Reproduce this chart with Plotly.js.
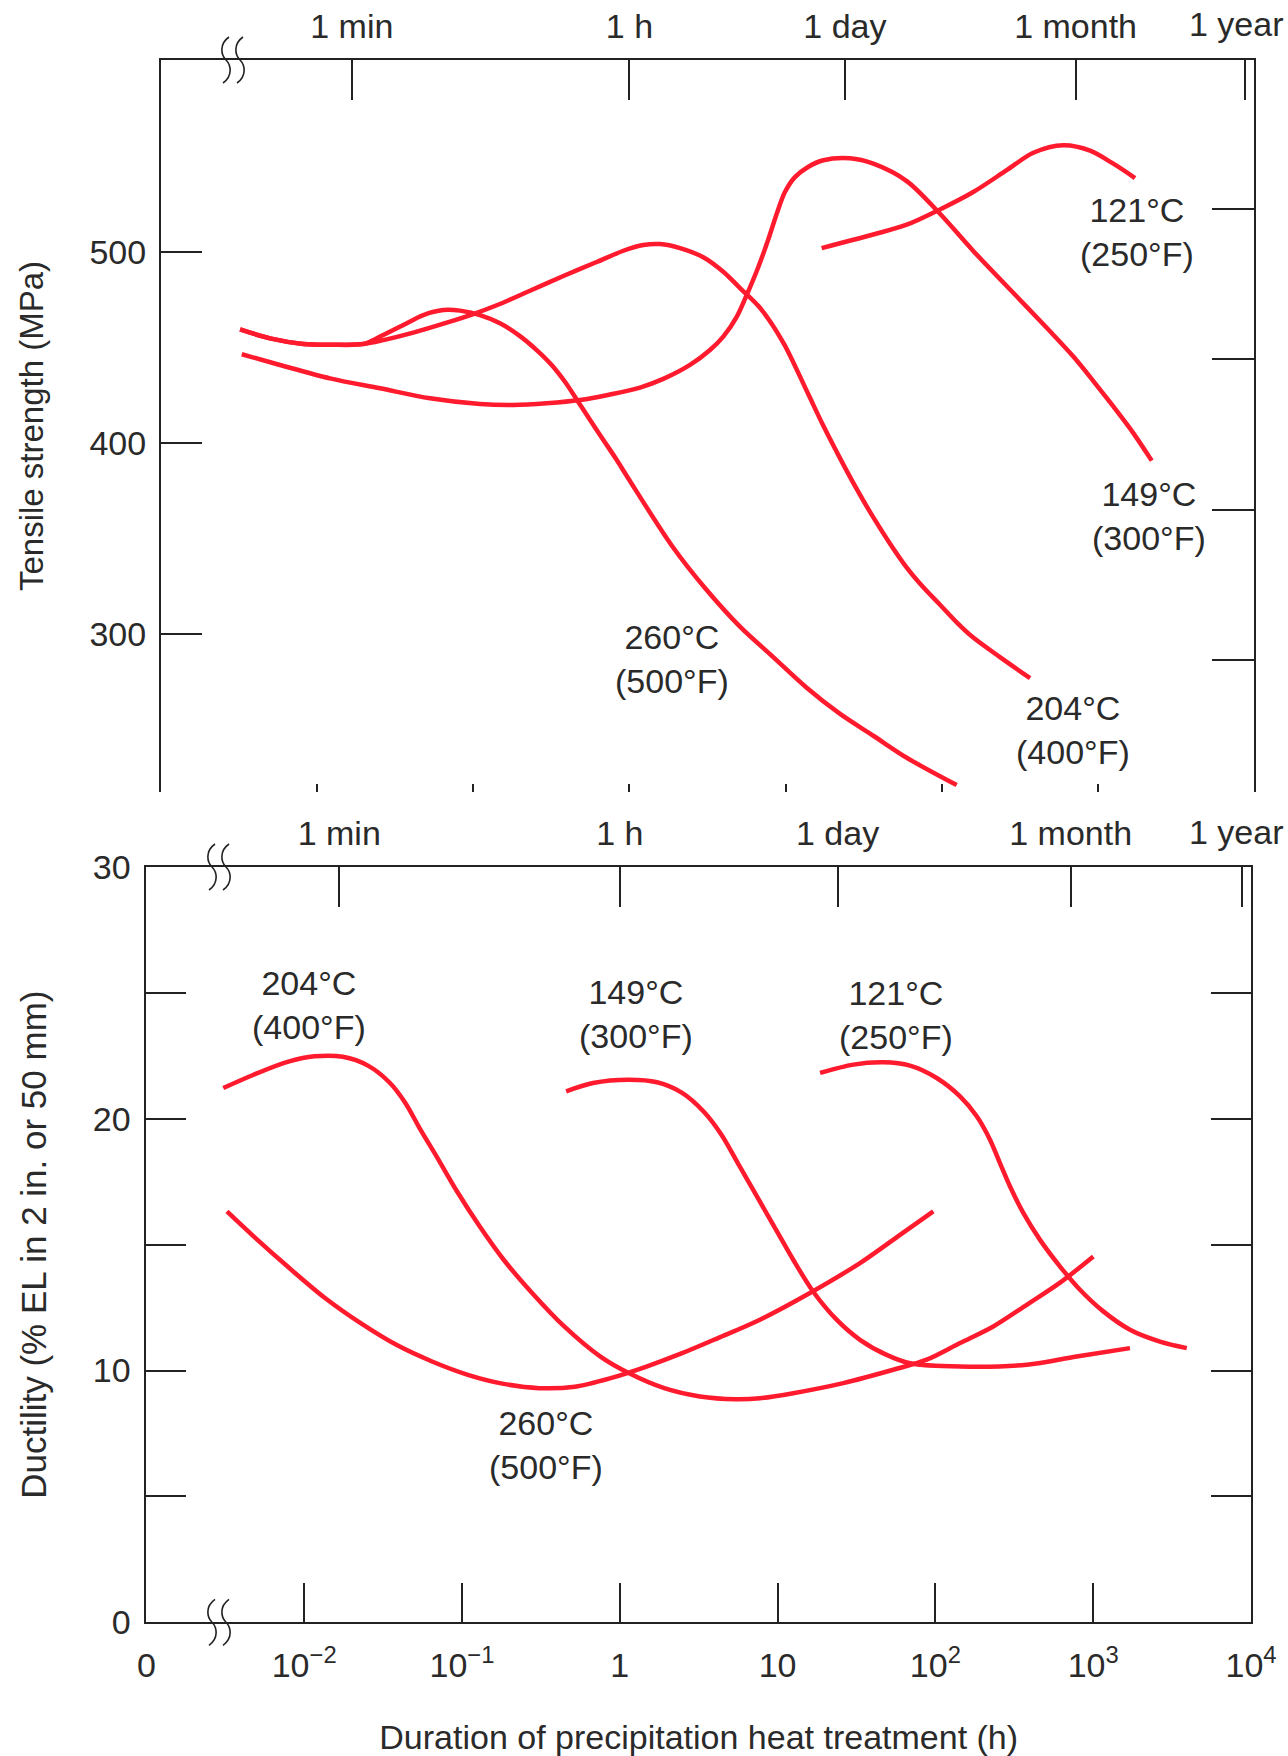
<!DOCTYPE html>
<html>
<head>
<meta charset="utf-8">
<script src="https://cdn.plot.ly/plotly-3.0.1.min.js"></script>
<style>
html,body{margin:0;padding:0;background:#fff;}
#chart{width:1288px;height:1756px;}
</style>
</head>
<body>
<div id="chart"></div>
<script>
// ---------------- DATA ----------------
// Top panel: tensile strength (MPa) vs. duration of heat treatment (h)
const ts260_h   = [0.00321,0.00499,0.00815,0.01208,0.01977,0.02529,0.03565,0.04786,0.06427,0.08222,0.1104,0.1483,0.1991,0.2547,0.3177,0.3864,0.4592,0.5598,0.6808,0.8299,0.9840,1.875,3.048,5.105,8.337,13.65,22.34,36.48,59.70,124.7];
const ts260_mpa = [459.4,454.7,451.8,451.4,451.8,455.6,461.7,466.9,469.5,469.2,466.9,462.6,455.9,448.6,440.8,432.0,422.8,412.0,401.6,391.1,381.5,346.2,324.2,304.0,288.1,272.1,258.4,247.0,235.5,221.2];

const ts204_h   = [0.00321,0.00499,0.00815,0.01208,0.01977,0.02655,0.0413,0.0676,0.1,0.1413,0.2307,0.3776,0.6166,0.9141,1.227,1.570,2.109,2.972,3.990,5.105,6.855,9.683,13.65,17.46,22.34,28.58,36.48,46.67,59.70,76.21,97.50,124.7,159.2,236.0,368.1];
const ts204_mpa = [459.4,454.7,451.8,451.4,451.8,453.8,457.7,462.9,467.4,472.0,479.6,487.3,494.6,500.5,503.5,504.0,501.9,497.1,489.5,481.0,470.7,452.4,427.3,409.0,392.0,375.9,361.1,347.4,334.9,324.6,315.5,306.3,298.3,288.1,277.1];

const ts149_h   = [0.00329,0.00578,0.01208,0.02529,0.05284,0.1104,0.1803,0.2951,0.4819,0.7516,1.169,1.648,2.443,3.281,3.990,4.864,5.741,6.653,7.727,8.810,9.908,11.48,13.93,17.46,25.88,36.48,59.70,97.50,159.2,333.4,481.9,696.6,935.4,1256,1687,2213];
const ts149_mpa = [446.4,440.8,433.8,428.6,423.4,420.4,419.9,420.8,422.5,425.4,429.0,433.5,440.8,448.6,455.6,465.9,478.9,491.5,506.1,520.2,531.2,539.0,544.3,547.8,548.8,546.0,536.9,519.8,500.4,473.0,459.3,445.2,432.4,419.1,405.2,390.8];

const ts121_h   = [17.02,36.48,59.70,97.5,159.2,260.6,386.4,601.2,891.3,1256,1730];
const ts121_mpa = [501.9,509.0,514.1,522.1,531.2,542.6,551.7,555.6,552.8,546.0,538.5];

// Bottom panel: ductility (%EL) vs. duration of heat treatment (h)
const el204_h   = [0.00307,0.00478,0.00805,0.01159,0.01758,0.02535,0.0346,0.04375,0.05383,0.06998,0.09311,0.1274,0.1837,0.2780,0.4446,0.7499,1.138,1.914,3.221,5.420,7.727,12.56,26.06,54.08,88.1,143.2,232.8,379.3,616.6,1002];
const el204_pct = [21.22,21.75,22.28,22.48,22.46,22.11,21.45,20.63,19.63,18.44,17.11,15.79,14.40,13.08,11.75,10.56,9.90,9.30,8.97,8.86,8.90,9.10,9.50,10.03,10.43,11.09,11.75,12.61,13.49,14.53];

const el260_h   = [0.00324,0.00478,0.00805,0.01355,0.02280,0.03837,0.06462,0.1089,0.1837,0.3090,0.5200,0.8750,1.476,2.483,4.188,7.727,16.03,33.27,59.70,97.0];
const el260_pct = [16.32,15.33,14.07,12.88,11.88,11.02,10.36,9.83,9.47,9.30,9.36,9.70,10.16,10.69,11.29,12.02,13.08,14.27,15.39,16.32];

const el149_h   = [0.457,0.676,1.138,1.722,2.483,3.396,4.406,5.715,7.727,9.863,12.56,16.83,23.66,33.27,49.09,69.02,143.2,379.3,785.2,1710];
const el149_pct = [21.09,21.42,21.55,21.45,21.03,20.29,19.37,18.14,16.71,15.55,14.40,13.13,12.02,11.22,10.62,10.29,10.16,10.23,10.56,10.89];

const el121_h   = [18.58,30.2,46.77,69.02,101.9,143.2,182.8,221.8,256.4,297.2,360.6,460.3,616.6,824.1,1159,1710,2649,3917];
const el121_pct = [21.82,22.15,22.24,22.11,21.62,20.89,20.10,19.17,18.24,17.31,16.26,15.19,14.13,13.21,12.35,11.62,11.15,10.89];

// Tick values / labels
const timeTickHours = [1/60, 1, 24, 720, 8760];
const timeTickText  = ['1 min', '1 h', '1 day', '1 month', '1 year'];
const decadeTicks   = [0.01, 0.1, 1, 10, 100, 1000];
const bottomTickVals = [0.001, 0.01, 0.1, 1, 10, 100, 1000, 10000];
const bottomTickText = ['0', '10<sup>−2</sup>', '10<sup>−1</sup>', '1', '10', '10<sup>2</sup>', '10<sup>3</sup>', '10<sup>4</sup>'];
const tsTickVals = [300, 400, 500];
const tsRightTickVals = [286.6, 365.0, 443.9, 522.2];
const elTickVals = [0, 10, 20, 30];
const elMinorStep = 5;
const elRightTickVals = [5, 10, 15, 20, 25];
const tempLabels = ['260°C<br>(500°F)', '204°C<br>(400°F)', '149°C<br>(300°F)', '121°C<br>(250°F)'];

// ---------------- DRAWING ----------------
const W = 1288, H = 1756;
const px = x => x / W;
const py = y => 1 - y / H;
const FONT = '"Liberation Sans", Arial, Helvetica, sans-serif';
const INK = '#222222';
const TXT = '#2a2a2a';
const RED = '#ff1a2d';

function curve(xs, ys, xa, ya, name) {
  return {
    type: 'scatter', mode: 'lines', x: xs, y: ys, xaxis: xa, yaxis: ya, name: name,
    line: {color: RED, width: 4.5, shape: 'spline', smoothing: 0.9},
    hoverinfo: 'skip'
  };
}

// the two overlaid axis pairs of each panel share identical ranges,
// so curves can sit on either pair (this makes every axis get drawn)
const traces = [
  curve(ts260_h, ts260_mpa, 'x', 'y', '260°C'),
  curve(ts204_h, ts204_mpa, 'x', 'y', '204°C'),
  curve(ts149_h, ts149_mpa, 'x3', 'y2', '149°C'),
  curve(ts121_h, ts121_mpa, 'x3', 'y2', '121°C'),
  curve(el204_h, el204_pct, 'x2', 'y3', '204°C'),
  curve(el260_h, el260_pct, 'x2', 'y3', '260°C'),
  curve(el149_h, el149_pct, 'x4', 'y4', '149°C'),
  curve(el121_h, el121_pct, 'x4', 'y4', '121°C')
];

const axBase = {
  showgrid: false, zeroline: false, linecolor: INK, linewidth: 2,
  tickcolor: INK, tickwidth: 2, ticks: 'inside',
  tickfont: {family: FONT, size: 34, color: TXT}
};

function ann(text, cx, cy) {
  return {
    text: text, xref: 'paper', yref: 'paper', x: px(cx), y: py(cy),
    xanchor: 'center', yanchor: 'middle', showarrow: false, align: 'center',
    font: {family: FONT, size: 34, color: TXT}
  };
}

// axis-break marks
function breakMarks(cx, cy) {
  const shapes = [];
  [-7, 7].forEach(d => {
    const x0 = cx + d;
    const pts = [
      [x0 + 3, cy - 23], [x0 - 7, cy - 16], [x0 - 5, cy - 5], [x0, cy],
      [x0 + 5, cy + 5], [x0 + 7, cy + 16], [x0 - 3, cy + 23]
    ];
    const f = p => px(p[0]).toFixed(5) + ',' + py(p[1]).toFixed(5);
    const path = 'M' + f(pts[0]) + ' C' + f(pts[1]) + ' ' + f(pts[2]) + ' ' + f(pts[3]) +
                 ' C' + f(pts[4]) + ' ' + f(pts[5]) + ' ' + f(pts[6]);
    shapes.push({type: 'path', xref: 'paper', yref: 'paper', path: path,
                 line: {color: INK, width: 1.6}});
  });
  return shapes;
}

const tsRange = [217.6, 600.2];
const elRange = [0, 30];

// "1 year" sits at the right edge: its tick is drawn as a minor tick and its
// label as a right-pulled annotation so that it is not clipped by the page edge
const nLabelled = timeTickText.length - 1;
const topTickCommon = {
  type: 'log', range: [-3, 4], side: 'top', showline: true, ticklen: 40,
  tickvals: timeTickHours.slice(0, nLabelled), ticktext: timeTickText.slice(0, nLabelled),
  ticklabelstandoff: 6,
  minor: {tickmode: 'array', tickvals: timeTickHours.slice(nLabelled), ticks: 'inside',
          ticklen: 40, tickwidth: 2, tickcolor: INK, showgrid: false}
};

const layout = {
  width: W, height: H,
  margin: {l: 0, r: 0, t: 0, b: 0},
  paper_bgcolor: '#ffffff', plot_bgcolor: 'rgba(0,0,0,0)',
  showlegend: false,
  font: {family: FONT, size: 34, color: TXT},

  // ---- top panel ----
  xaxis: Object.assign({}, axBase, {
    domain: [px(161), px(1254)], anchor: 'y', type: 'log', range: [-3, 4],
    showline: false, ticklen: 8, tickvals: decadeTicks, showticklabels: false
  }),
  xaxis3: Object.assign({}, axBase, topTickCommon, {overlaying: 'x', anchor: 'y'}),
  yaxis: Object.assign({}, axBase, {
    domain: [py(792), py(60)], anchor: 'x', range: tsRange,
    showline: true, ticklen: 41, tickvals: tsTickVals, ticklabelstandoff: 6,
    title: {text: 'Tensile strength (MPa)', font: {family: FONT, size: 33, color: TXT}, standoff: 36}
  }),
  yaxis2: Object.assign({}, axBase, {
    overlaying: 'y', anchor: 'x', side: 'right', range: tsRange,
    showline: true, ticklen: 42, tickvals: tsRightTickVals, showticklabels: false
  }),

  // ---- bottom panel ----
  xaxis2: Object.assign({}, axBase, {
    domain: [px(146.4), px(1251)], anchor: 'y3', type: 'log', range: [-3, 4],
    showline: true, ticklen: 39, tickvals: bottomTickVals, ticktext: bottomTickText,
    ticklabelstandoff: 12, ticklabeloverflow: 'allow',
    title: {text: 'Duration of precipitation heat treatment (h)', font: {family: FONT, size: 34, color: TXT}, standoff: 42}
  }),
  xaxis4: Object.assign({}, axBase, topTickCommon, {overlaying: 'x2', anchor: 'y3'}),
  yaxis3: Object.assign({}, axBase, {
    domain: [py(1622.3), py(867)], anchor: 'x2', range: elRange,
    showline: true, ticklen: 40, tickvals: elTickVals, ticklabelstandoff: 7,
    minor: {dtick: elMinorStep, tick0: 0, ticks: 'inside', ticklen: 40, tickwidth: 2, tickcolor: INK, showgrid: false},
    title: {text: 'Ductility (% EL in 2 in. or 50 mm)', font: {family: FONT, size: 35, color: TXT}, standoff: 36}
  }),
  yaxis4: Object.assign({}, axBase, {
    overlaying: 'y3', anchor: 'x2', side: 'right', range: elRange,
    showline: true, ticklen: 40, tickvals: elRightTickVals, showticklabels: false
  }),

  annotations: [
    ann(tempLabels[0], 672, 659),
    ann(tempLabels[1], 1073, 730),
    ann(tempLabels[2], 1149, 516),
    ann(tempLabels[3], 1137, 232),
    ann(tempLabels[1], 309, 1005),
    ann(tempLabels[2], 636, 1014),
    ann(tempLabels[3], 896, 1015),
    ann(tempLabels[0], 546, 1445),
    ann(timeTickText[nLabelled], 1236, 24),
    ann(timeTickText[nLabelled], 1236, 832)
  ],
  shapes: [].concat(breakMarks(233, 60), breakMarks(219, 867), breakMarks(219, 1622.3))
};

Plotly.newPlot('chart', traces, layout, {displayModeBar: false, staticPlot: true});
</script>
</body>
</html>
